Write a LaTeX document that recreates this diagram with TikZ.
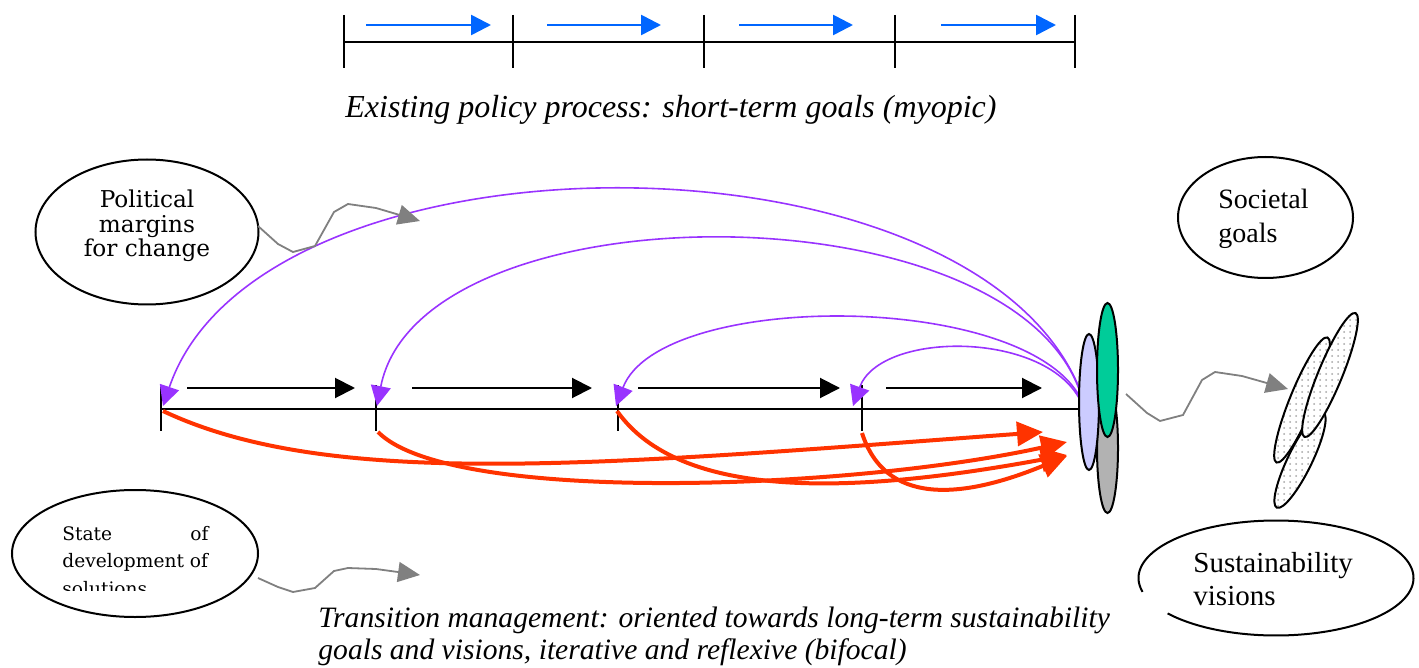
\documentclass[tikz,border=0pt]{standalone}
\usepackage{fontspec}
\setmainfont{Liberation Serif}
\newfontfamily\dvs{DejaVu Serif}
\usetikzlibrary{arrows.meta,patterns,shapes.geometric}
\definecolor{tmred}{RGB}{255,51,0}
\definecolor{tmpurple}{RGB}{153,51,255}
\definecolor{tmblue}{RGB}{0,102,255}
\definecolor{tmlav}{RGB}{204,204,255}
\definecolor{tmgreen}{RGB}{0,204,153}
\definecolor{tmgray}{RGB}{178,178,178}
\definecolor{sqgray}{RGB}{128,128,128}
\begin{document}
\begin{tikzpicture}[x=0.5pt,y=-0.5pt,
  axisline/.style={line width=1pt, black},
  bluearr/.style={draw=tmblue, line width=1.3pt, -{Triangle[length=10pt,width=10pt]}},
  blackarr/.style={draw=black, line width=1pt, -{Triangle[length=10pt,width=10pt]}},
  purarr/.style={draw=tmpurple, line width=0.8pt, -{Triangle[length=10pt,width=10pt]}},
  redarr/.style={draw=tmred, line width=2pt, -{Triangle[length=13pt,width=12pt]}},
  squig/.style={draw=sqgray, line width=0.9pt, -{Triangle[length=11pt,width=10pt]}},
  oval/.style={draw, line width=1pt, shape=ellipse, inner sep=0pt},
  pillshape/.style={draw=black, line width=1pt},
  dotell/.style={draw=black, line width=1pt, preaction={fill=white}, pattern=dots, pattern color=gray!70},
  txt/.style={inner sep=0pt, text=black}
]
\useasboundingbox (0,0) rectangle (1419,668);

% ---------- top timeline ----------
\foreach \n/\x in {0/344,1/513,2/704,3/895,4/1075} \coordinate (a\n) at (\x,42);
\draw[axisline] (a0) -- (a4);
\foreach \n in {0,...,4} \draw[axisline] (a\n) ++(0,-27) -- ++(0,53);
\coordinate (b1s) at (366,25);  \coordinate (b1e) at (491,25);
\coordinate (b2s) at (547,25);  \coordinate (b2e) at (661,25);
\coordinate (b3s) at (739,25);  \coordinate (b3e) at (853,25);
\coordinate (b4s) at (941,25);  \coordinate (b4e) at (1056,25);
\foreach \n in {1,...,4} \draw[bluearr] (b\n s) -- (b\n e);

\node[txt, font=\itshape\fontsize{16}{19}\selectfont] (title) at (671,110) {Existing policy process: short-term goals (myopic)};

% ---------- main timeline ----------
\coordinate (m1) at (161,409);
\coordinate (m2) at (376,409);
\coordinate (m3) at (618,409);
\coordinate (m4) at (862,409);
\coordinate (mend) at (1082,409);
\draw[axisline] (m1) -- (mend);
\foreach \n in {1,...,4} \draw[axisline] (m\n) ++(0,-24) -- ++(0,46);

\coordinate (k1s) at (187,388); \coordinate (k1e) at (355,388);
\coordinate (k2s) at (412,388); \coordinate (k2e) at (592,388);
\coordinate (k3s) at (638,388); \coordinate (k3e) at (840,388);
\coordinate (k4s) at (886,388); \coordinate (k4e) at (1042,388);
\foreach \n in {1,...,4} \draw[blackarr] (k\n s) -- (k\n e);

% ---------- purple feedback arcs ----------
\coordinate (q1) at (1082,395); \coordinate (u1) at (163,406);
\coordinate (q2) at (1082,398); \coordinate (u2) at (377,406);
\coordinate (q3) at (1082,401); \coordinate (u3) at (616,406);
\coordinate (q4) at (1082,404); \coordinate (u4) at (853,406);
\draw[purarr] (q1) .. controls (980,120) and (260,120) .. (u1);
\draw[purarr] (q2) .. controls (1020,185) and (420,185) .. (u2);
\draw[purarr] (q3) .. controls (1030,290) and (660,290) .. (u3);
\draw[purarr] (q4) .. controls (1050,330) and (880,330) .. (u4);

% ---------- red arrows ----------
\coordinate (r1s) at (163,411); \coordinate (r1e) at (1043,432);
\coordinate (r2s) at (378,432); \coordinate (r2e) at (1067,442);
\coordinate (r3s) at (617,411); \coordinate (r3e) at (1067,455);
\coordinate (r4s) at (862,433); \coordinate (r4e) at (1067,456);
\draw[redarr] (r1s) .. controls (330,490) and (600,465) .. (r1e);
\draw[redarr] (r2s) .. controls (450,505) and (850,490) .. (r2e);
\draw[redarr] (r3s) .. controls (680,500) and (850,495) .. (r3e);
\draw[redarr] (r4s) .. controls (885,505) and (960,500) .. (r4e);

% ---------- goal ellipses on the right ----------
\path[pillshape, fill=tmgray] (1107.5,448) ellipse [x radius=10.5, y radius=65];
\path[pillshape, fill=tmlav] (1089,402) ellipse [x radius=10, y radius=68];
\path[pillshape, fill=tmgreen] (1107.5,370) ellipse [x radius=10.5, y radius=67];

% ---------- dotted vision ellipses ----------
\begin{scope}[shift={(1300,460)}, rotate=64]
  \path[dotell] (0,0) ellipse [x radius=53, y radius=12];
\end{scope}
\begin{scope}[shift={(1302,400)}, rotate=67.8]
  \path[dotell] (0,0) ellipse [x radius=67.5, y radius=12];
\end{scope}
\begin{scope}[shift={(1330,375)}, rotate=67.6]
  \path[dotell] (0,0) ellipse [x radius=67, y radius=12];
\end{scope}

% ---------- label ellipses ----------
\node[oval, minimum width=111.5pt, minimum height=72.5pt] (polE) at (147,232) {};
\node[txt, font=\dvs\fontsize{11.6}{12.25}\selectfont, align=center] (poltxt) at (147,226) {Political\\margins\\for change};

\node[oval, minimum width=87.5pt, minimum height=60.5pt] (socE) at (1265.5,217.5) {};
\node[txt, font=\fontsize{14}{17}\selectfont, align=left, anchor=west] (soctxt) at (1218,219) {Societal\\goals};

\node[oval, minimum width=123pt, minimum height=63.5pt] (stE) at (135,553.5) {};
\begin{scope}
  \clip (0,480) rectangle (300,590);
  \node[txt, font=\dvs\fontsize{9.3}{13.75}\selectfont, align=left, anchor=west] (sttxt) at (62,561) {\hbox to 73pt{State\hfill of}\\development of\\solutions};
\end{scope}

\draw[line width=1pt] plot[domain=166:502, samples=160] ({1276+137.5*cos(\x)},{578+57.5*sin(\x)});
\node[txt, font=\fontsize{14.5}{16.5}\selectfont, align=left, anchor=west] (sustxt) at (1193,579) {Sustainability\\visions};

% ---------- gray squiggle arrows ----------
\coordinate (g1s) at (1126,394); \coordinate (g1e) at (1288,389);
\coordinate (g2s) at (258,226);  \coordinate (g2e) at (420,221);
\coordinate (g3s) at (258,578);  \coordinate (g3e) at (420,575);
\draw[squig] (g1s) -- (1147,413) -- (1160,421) -- (1183,415) -- (1202,380) -- (1215,372) -- (1242,376) -- (g1e);
\draw[squig] (g2s) -- (278,244) -- (293,252) -- (315,246) -- (334,212) -- (348,204) -- (376,208) -- (g2e);
\draw[squig] (g3s) -- (278,587) -- (293,592) -- (315,588) -- (334,571) -- (348,568) -- (376,569) -- (g3e);

% ---------- bottom caption ----------
\node[txt, font=\itshape\fontsize{14.8}{16}\selectfont, align=left, anchor=west] (tmtxt) at (318,636) {Transition management: oriented towards long-term sustainability\\goals and visions, iterative and reflexive (bifocal)};
\end{tikzpicture}
\end{document}
